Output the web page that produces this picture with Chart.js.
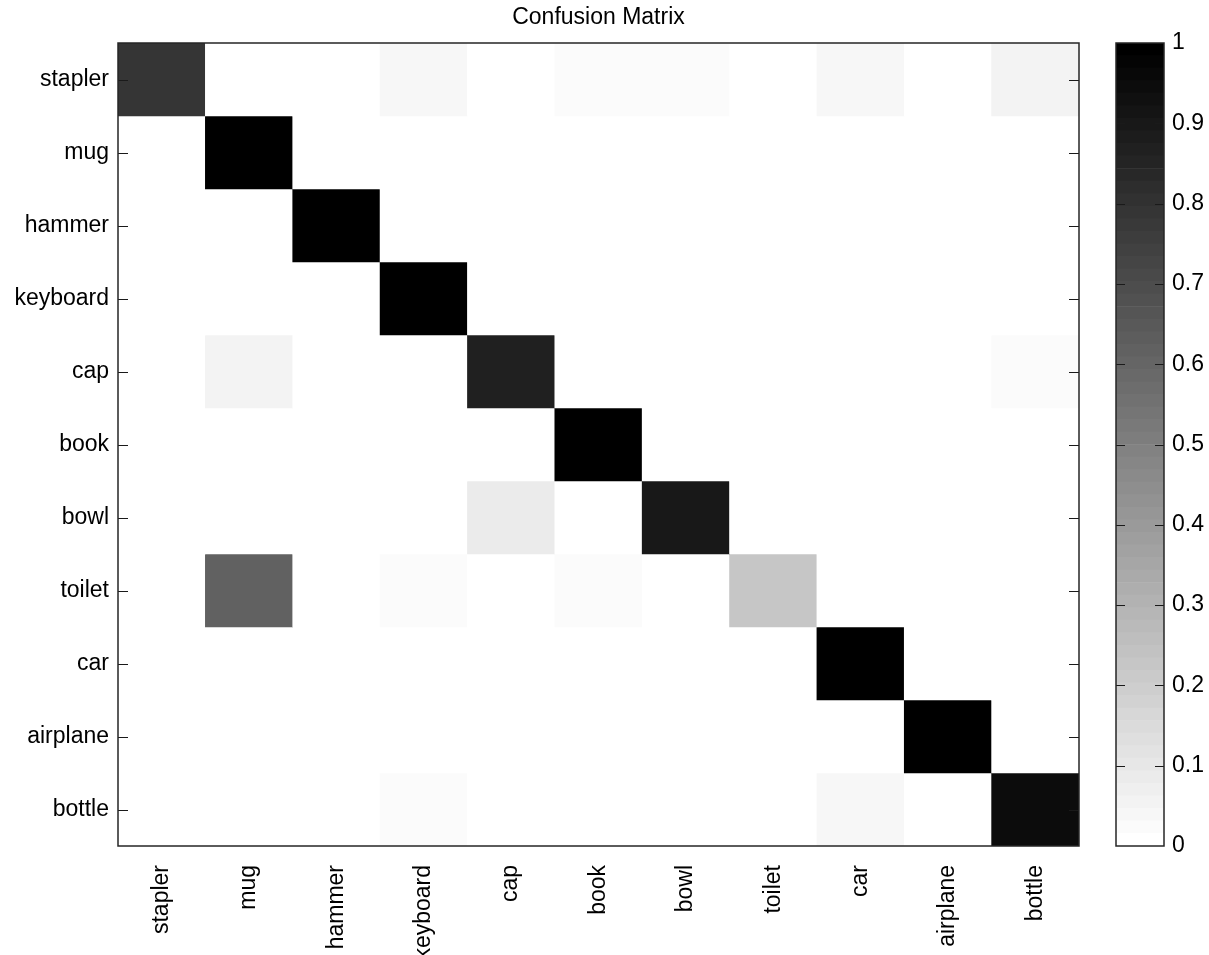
<!DOCTYPE html>
<html>
<head>
<meta charset="utf-8">
<script src="https://cdn.jsdelivr.net/npm/chart.js@4"></script>
<style>
  html, body { margin: 0; padding: 0; background: #fff; }
  #wrap { position: relative; width: 1209px; height: 955px; overflow: hidden; background: #fff; }
  #main { position: absolute; left: 0; top: 0; }
  #cbar { position: absolute; left: 1100px; top: 0; }
</style>
</head>
<body>
<div id="wrap">
  <canvas id="main" width="1209" height="955"></canvas>
  <canvas id="cbar" width="109" height="955"></canvas>
</div>
<script>
// ---- data ----
const rowLabels = ['stapler', 'mug', 'hammer', 'keyboard', 'cap', 'book', 'bowl', 'toilet', 'car', 'airplane', 'bottle'];
const colLabels = ['stapler', 'mug', 'hammer', 'keyboard', 'cap', 'book', 'bowl', 'toilet', 'car', 'airplane', 'bottle'];
const rowStapler  = [0.79, 0,    0, 0.035, 0,    0.025, 0.025, 0,    0.04, 0,    0.05];
const rowMug      = [0,    1,    0, 0,     0,    0,     0,     0,    0,    0,    0];
const rowHammer   = [0,    0,    1, 0,     0,    0,     0,     0,    0,    0,    0];
const rowKeyboard = [0,    0,    0, 1,     0,    0,     0,     0,    0,    0,    0];
const rowCap      = [0,    0.05, 0, 0,     0.87, 0,     0,     0,    0,    0,    0.02];
const rowBook     = [0,    0,    0, 0,     0,    1,     0,     0,    0,    0,    0];
const rowBowl     = [0,    0,    0, 0,     0.08, 0,     0.905, 0,    0,    0,    0];
const rowToilet   = [0,    0.62, 0, 0.02,  0,    0.02,  0,     0.22, 0,    0,    0];
const rowCar      = [0,    0,    0, 0,     0,    0,     0,     0,    1,    0,    0];
const rowAirplane = [0,    0,    0, 0,     0,    0,     0,     0,    0,    1,    0];
const rowBottle   = [0,    0,    0, 0.02,  0,    0,     0,     0,    0.035,0,    0.945];
const matrix = [rowStapler, rowMug, rowHammer, rowKeyboard, rowCap, rowBook, rowBowl, rowToilet, rowCar, rowAirplane, rowBottle];
const colorbarTicks = [0, 0.1, 0.2, 0.3, 0.4, 0.5, 0.6, 0.7, 0.8, 0.9, 1];
const nLevels = 64;

// ---- colormap (inverted gray, 64 levels) ----
function levelColor(k) {
  const g = Math.round(255 * (1 - k / (nLevels - 1)));
  return 'rgb(' + g + ',' + g + ',' + g + ')';
}
function valueColor(v) {
  const k = Math.min(nLevels - 1, Math.max(0, Math.floor(v * nLevels)));
  return levelColor(k);
}

Chart.defaults.font.family = '"Liberation Sans", Arial, Helvetica, sans-serif';
Chart.defaults.font.size = 23;
Chart.defaults.color = '#000';
Chart.defaults.animation = false;

const FONT = { family: '"Liberation Sans", Arial, Helvetica, sans-serif', size: 23, weight: 'normal' };

// plugin: frame + inner ticks
function frameTicksPlugin(id, axisId, tickLen, values) {
  return {
    id: id,
    afterDatasetsDraw(chart) {
      const ctx = chart.ctx;
      const a = chart.chartArea;
      const sc = chart.scales[axisId];
      ctx.save();
      ctx.strokeStyle = '#1a1a1a';
      ctx.lineWidth = 1.2;
      const vals = values ? values : sc.ticks.map(t => t.value);
      vals.forEach(v => {
        const y = Math.round(sc.getPixelForValue(v)) + 0.5;
        ctx.beginPath();
        ctx.moveTo(a.left, y); ctx.lineTo(a.left + tickLen, y);
        ctx.moveTo(a.right, y); ctx.lineTo(a.right - tickLen, y);
        ctx.stroke();
      });
      ctx.strokeStyle = '#262626';
      ctx.lineWidth = 1.5;
      ctx.strokeRect(a.left, a.top, a.right - a.left, a.bottom - a.top);
      ctx.restore();
    }
  };
}

// ---- main matrix ----
const datasets = matrix.map((row, r) => ({
  label: rowLabels[r],
  data: colLabels.map(() => [r, r + 1]),
  backgroundColor: row.map(v => valueColor(v)),
  borderWidth: 0,
  stack: 'm',
  barPercentage: 1,
  categoryPercentage: 1
}));

new Chart(document.getElementById('main'), {
  type: 'bar',
  data: { labels: colLabels, datasets: datasets },
  options: {
    responsive: false,
    devicePixelRatio: 1,
    animation: false,
    layout: { padding: { left: 0, right: 130, top: 0, bottom: 0 } },
    plugins: {
      legend: { display: false },
      tooltip: { enabled: false },
      title: {
        display: true,
        text: 'Confusion Matrix',
        fullSize: false,
        color: '#000',
        font: FONT,
        padding: { top: 4, bottom: 11.4 }
      }
    },
    scales: {
      x: {
        type: 'category',
        stacked: true,
        offset: true,
        grid: { display: false, drawTicks: false, tickLength: 0 },
        border: { display: false },
        ticks: {
          autoSkip: false,
          minRotation: 90,
          maxRotation: 90,
          padding: 19,
          color: '#000',
          font: FONT
        },
        afterFit(scale) { scale.height = 109; }
      },
      y: {
        type: 'linear',
        min: 0,
        max: 11,
        reverse: true,
        stacked: false,
        grid: { display: false, drawTicks: false, tickLength: 0 },
        border: { display: false },
        afterBuildTicks(scale) {
          scale.ticks = rowLabels.map((_, i) => ({ value: i + 0.5 }));
        },
        ticks: {
          padding: 9,
          color: '#000',
          font: FONT,
          callback: (value, index) => rowLabels[index]
        },
        afterFit(scale) { scale.width = 118; }
      }
    }
  },
  plugins: [frameTicksPlugin('mainFrame', 'y', 10, null)]
});

// ---- colorbar ----
const cbSets = [];
for (let k = 0; k < nLevels; k++) {
  cbSets.push({
    data: [[k / nLevels, (k + 1) / nLevels]],
    backgroundColor: levelColor(k),
    borderWidth: 0,
    stack: 'c',
    barPercentage: 1,
    categoryPercentage: 1
  });
}

new Chart(document.getElementById('cbar'), {
  type: 'bar',
  data: { labels: [''], datasets: cbSets },
  options: {
    responsive: false,
    devicePixelRatio: 1,
    animation: false,
    layout: { padding: { left: 16, right: 0, top: 43, bottom: 109 } },
    plugins: { legend: { display: false }, tooltip: { enabled: false }, title: { display: false } },
    scales: {
      x: { type: 'category', stacked: true, display: false, offset: true },
      y: {
        type: 'linear',
        position: 'right',
        min: 0,
        max: 1,
        stacked: false,
        grid: { display: false, drawTicks: false, tickLength: 0 },
        border: { display: false },
        afterBuildTicks(scale) {
          scale.ticks = colorbarTicks.map(v => ({ value: v }));
        },
        ticks: {
          padding: 8,
          color: '#000',
          font: FONT,
          callback: (value, index) => String(colorbarTicks[index])
        },
        afterFit(scale) { scale.width = 45; }
      }
    }
  },
  plugins: [frameTicksPlugin('cbFrame', 'y', 9, colorbarTicks.slice(1, -1))]
});
</script>
</body>
</html>
